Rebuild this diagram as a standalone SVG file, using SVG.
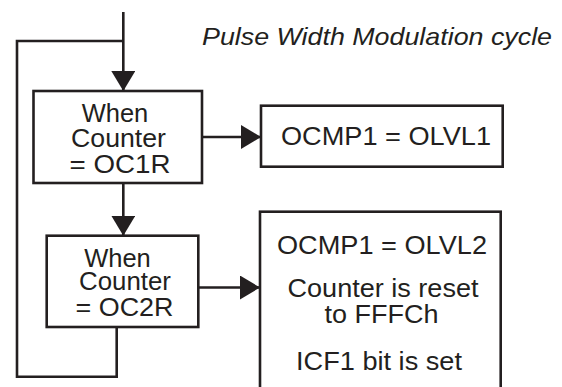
<svg xmlns="http://www.w3.org/2000/svg" width="562" height="387" viewBox="0 0 562 387">
<style>
.box{fill:#fff;stroke:#231f20;stroke-width:2.6}
.ln{fill:none;stroke:#231f20;stroke-width:2.6}
.t{font-family:"Liberation Sans",Arial,sans-serif;font-size:25.5px;fill:#231f20;text-anchor:middle}
.ti{font-family:"Liberation Sans",Arial,sans-serif;font-size:24px;font-style:italic;fill:#231f20}
</style>
<defs>
<marker id="ah" markerUnits="userSpaceOnUse" markerWidth="21" markerHeight="24" refX="20" refY="12" orient="auto">
<path d="M0,0 L20,12 L0,24 Z" fill="#231f20"/>
</marker>
</defs>
<text class="ti" x="202" y="45" textLength="350" lengthAdjust="spacingAndGlyphs">Pulse Width Modulation cycle</text>
<g id="connectors">
<path class="ln" d="M123.3,12 V91" marker-end="url(#ah)"/>
<path class="ln" d="M116.7,327 V376.7 H17 V41 H123.3"/>
<path class="ln" d="M202,137 H261" marker-end="url(#ah)"/>
<path class="ln" d="M123.3,183 V235.7" marker-end="url(#ah)"/>
<path class="ln" d="M198.3,287.5 H260" marker-end="url(#ah)"/>
</g>
<g id="n1">
<rect class="box" x="33.5" y="91" width="168.5" height="92"/>
<text class="t" x="115" y="122">When</text>
<text class="t" x="118.5" y="147" textLength="95" lengthAdjust="spacingAndGlyphs">Counter</text>
<text class="t" x="120" y="173" textLength="101" lengthAdjust="spacingAndGlyphs">= OC1R</text>
</g>
<g id="n2">
<rect class="box" x="261" y="105.7" width="241.7" height="61"/>
<text class="t" x="386" y="145" textLength="210" lengthAdjust="spacingAndGlyphs">OCMP1 = OLVL1</text>
</g>
<g id="n3">
<rect class="box" x="46.7" y="235.7" width="151.6" height="91.3"/>
<text class="t" x="117.5" y="267">When</text>
<text class="t" x="125" y="290" textLength="92" lengthAdjust="spacingAndGlyphs">Counter</text>
<text class="t" x="124.5" y="316" textLength="98" lengthAdjust="spacingAndGlyphs">= OC2R</text>
</g>
<g id="n4">
<rect class="box" x="260" y="211.7" width="240.7" height="190"/>
<text class="t" x="382" y="253.5" textLength="210" lengthAdjust="spacingAndGlyphs">OCMP1 = OLVL2</text>
<text class="t" x="383" y="297" textLength="191" lengthAdjust="spacingAndGlyphs">Counter is reset</text>
<text class="t" x="381.5" y="323" textLength="114" lengthAdjust="spacingAndGlyphs">to FFFCh</text>
<text class="t" x="379" y="370" textLength="166" lengthAdjust="spacingAndGlyphs">ICF1 bit is set</text>
</g>
</svg>
